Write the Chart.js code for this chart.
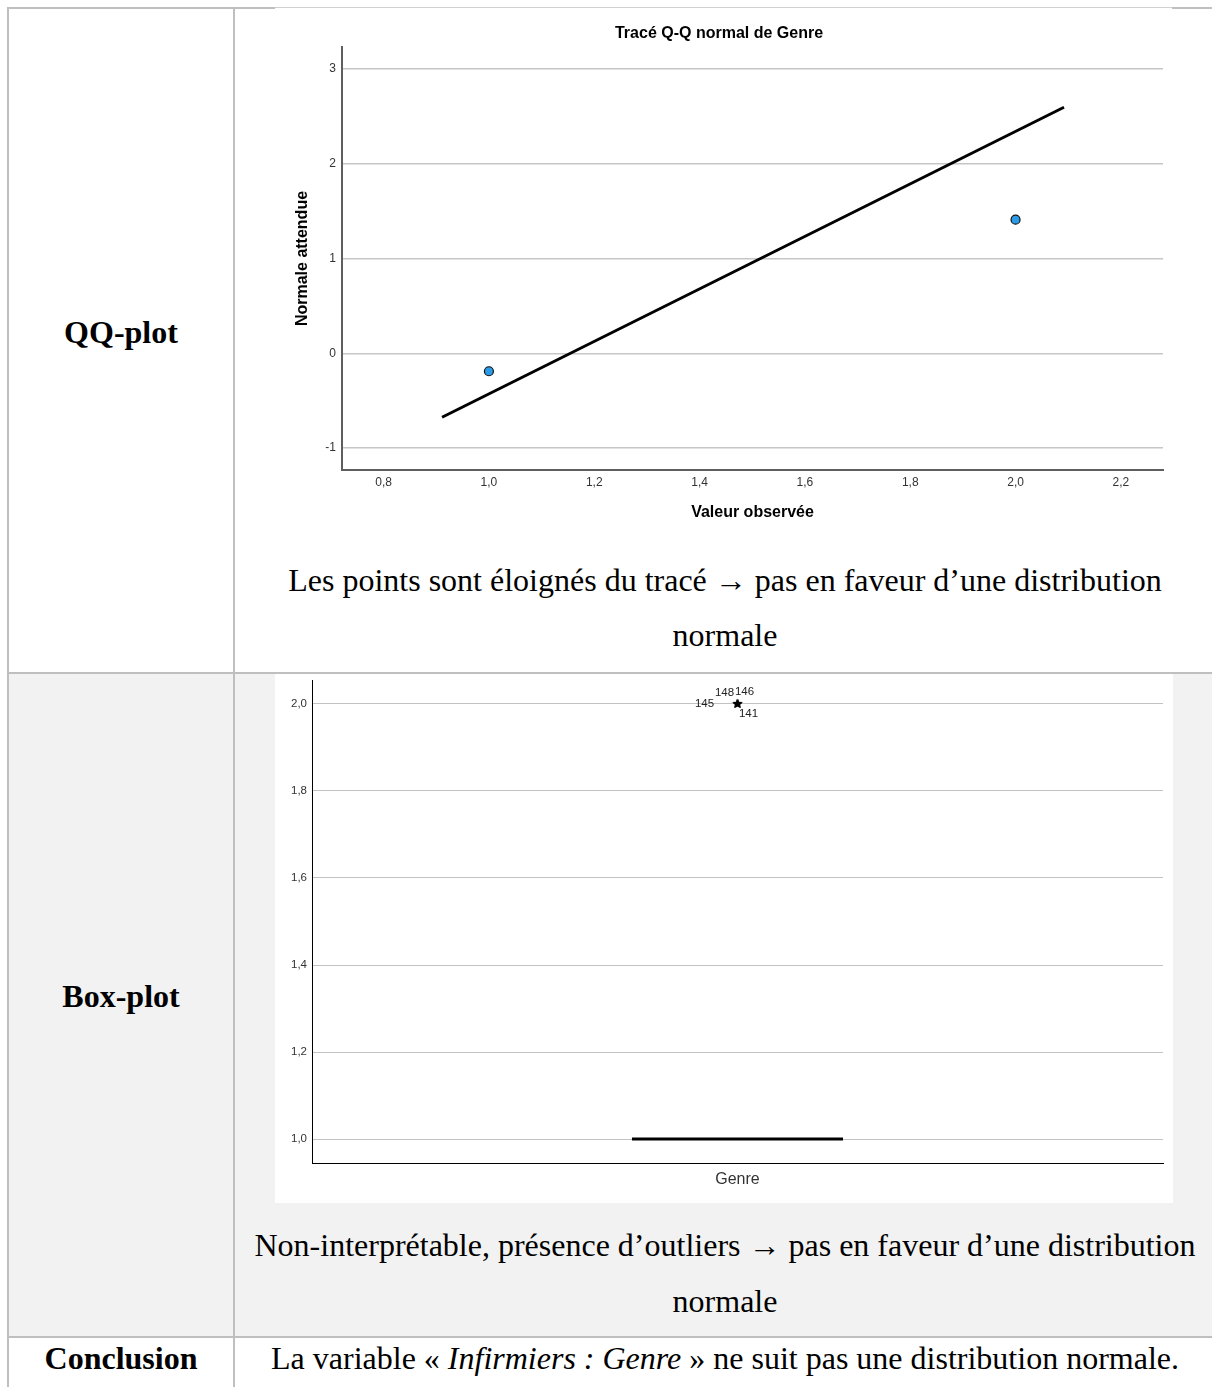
<!DOCTYPE html>
<html><head><meta charset="utf-8">
<script src="https://cdn.jsdelivr.net/npm/chart.js@4.4.0/dist/chart.umd.min.js"></script>
<style>
html,body{margin:0;padding:0;background:#fff;}
body{width:1212px;height:1387px;position:relative;overflow:hidden;font-family:"Liberation Serif","Times New Roman",serif;color:#000;}
.abs{position:absolute;}
.hl{position:absolute;height:2px;background:#bfbfbf;}
.vl{position:absolute;width:2px;background:#bfbfbf;}
.txt{position:absolute;font-size:32px;line-height:55px;white-space:nowrap;text-align:center;}
.b{font-weight:bold;}
</style></head><body>
<div class="abs" style="left:8px;top:674px;width:1204px;height:662px;background:#f2f2f2"></div>
<div class="hl" style="left:7px;top:7px;width:268px"></div>
<div class="abs" style="left:275px;top:7px;width:897px;height:1px;background:#d0d0d0"></div>
<div class="hl" style="left:1172px;top:7px;width:40px"></div>
<div class="hl" style="left:7px;top:672px;width:1205px"></div>
<div class="hl" style="left:7px;top:1336px;width:1205px"></div>
<div class="vl" style="left:7px;top:7px;height:1380px"></div>
<div class="vl" style="left:233px;top:7px;height:1380px"></div>
<div class="abs" style="left:275px;top:10px;width:897px;height:525px"><canvas id="qq" width="897" height="525"></canvas></div>
<div class="abs" style="left:275px;top:674px;width:898px;height:529px;background:#fff"><canvas id="box" width="898" height="529"></canvas></div>

<div class="txt b" style="left:8px;width:226px;top:305px">QQ-plot</div>
<div class="txt" style="left:235px;width:980px;top:553px">Les points sont éloignés du tracé → pas en faveur d’une distribution</div>
<div class="txt" style="left:235px;width:980px;top:608px">normale</div>
<div class="txt b" style="left:8px;width:226px;top:969px">Box-plot</div>
<div class="txt" style="left:235px;width:980px;top:1218px">Non-interprétable, présence d’outliers → pas en faveur d’une distribution</div>
<div class="txt" style="left:235px;width:980px;top:1274px">normale</div>
<div class="txt b" style="left:8px;width:226px;top:1331px">Conclusion</div>
<div class="txt" style="left:235px;width:980px;top:1331px">La variable « <i>Infirmiers : Genre</i> » ne suit pas une distribution normale.</div>

<script>
// ---------- Q-Q plot data ----------
const qqObserved = [1.0, 2.0];
const qqExpected = [-0.19, 1.41];
const qqLineX = [0.911, 2.092];
const qqLineY = [-0.675, 2.596];
const qqXTicks = [0.8, 1.0, 1.2, 1.4, 1.6, 1.8, 2.0, 2.2];
const qqYTicks = [-1, 0, 1, 2, 3];
const qqXRange = [0.721, 2.280];
const qqYRange = [-1.232, 3.232];

// ---------- Box plot data ----------
const boxCategories = ['Genre'];
const boxMin = [1];
const boxQ1 = [1];
const boxMedian = [1];
const boxQ3 = [1];
const boxMax = [1];
const extremeValues = [2, 2, 2, 2];
const extremeLabels = ['145', '148', '146', '141'];
const boxYTicks = [1.0, 1.2, 1.4, 1.6, 1.8, 2.0];
const boxYRange = [0.945, 2.055];

const fmt = v => v.toFixed(1).replace('.', ',');
const SANS = '"Liberation Sans", Arial, sans-serif';

function fixedTicks(arr){ return function(s){ s.ticks = arr.map(v => ({value: v})); }; }
function fitW(w){ return function(s){ s.width = w; s.paddingTop = 0; s.paddingBottom = 0; s.paddingLeft = 0; s.paddingRight = 0; }; }
function fitH(h){ return function(s){ s.height = h; s.paddingTop = 0; s.paddingBottom = 0; s.paddingLeft = 0; s.paddingRight = 0; }; }

new Chart(document.getElementById('qq'), {
  type: 'scatter',
  data: {
    datasets: [
      {
        data: qqObserved.map((x, i) => ({x: x, y: qqExpected[i]})),
        backgroundColor: '#2b9be8', borderColor: '#111', borderWidth: 1.2,
        pointRadius: 4.5, pointHoverRadius: 4.5, order: 0
      },
      {
        data: qqLineX.map((x, i) => ({x: x, y: qqLineY[i]})),
        showLine: true, borderColor: '#000', borderWidth: 3, pointRadius: 0,
        fill: false, order: 1
      }
    ]
  },
  options: {
    responsive: false, animation: false,
    layout: {padding: {left: 0, right: 9, top: 0, bottom: 0}},
    plugins: {
      legend: {display: false}, tooltip: {enabled: false},
      title: {display: true, text: 'Tracé Q-Q normal de Genre', color: '#000',
        font: {family: SANS, size: 16, weight: 'bold', lineHeight: 1.2},
        padding: {top: 14.4, bottom: 3.4}}
    },
    scales: {
      x: {
        type: 'linear', min: qqXRange[0], max: qqXRange[1],
        afterBuildTicks: fixedTicks(qqXTicks), afterFit: fitH(65),
        grid: {display: false, drawTicks: false},
        border: {display: true, color: '#5e5e5e', width: 2},
        ticks: {color: '#333', padding: 5.8, font: {family: SANS, size: 12}, callback: v => fmt(v), maxRotation: 0, autoSkip: false},
        title: {display: true, text: 'Valeur observée', color: '#000',
          font: {family: SANS, size: 16, weight: 'bold', lineHeight: 1.2}, padding: {top: 0, bottom: 12.4}}
      },
      y: {
        type: 'linear', min: qqYRange[0], max: qqYRange[1],
        afterBuildTicks: fixedTicks(qqYTicks), afterFit: fitW(67),
        grid: {color: '#c6c6c6', lineWidth: 1.5, drawTicks: false},
        border: {display: true, color: '#5e5e5e', width: 2},
        ticks: {color: '#333', padding: 6, font: {family: SANS, size: 12}, callback: v => String(v), autoSkip: false},
        title: {display: true, text: 'Normale attendue', color: '#000',
          font: {family: SANS, size: 16, weight: 'bold', lineHeight: 1.2}, padding: {top: 18.4, bottom: 0}}
      }
    }
  }
});

// ---------- Box plot ----------
function makeStar(r){
  const s = Math.ceil(r * 2 + 2);
  const c = document.createElement('canvas'); c.width = s; c.height = s;
  const g = c.getContext('2d'); g.fillStyle = '#000'; g.beginPath();
  for (let k = 0; k < 10; k++) {
    const a = -Math.PI / 2 + k * Math.PI / 5;
    const rr = (k % 2) ? r * 0.42 : r;
    g.lineTo(s / 2 + rr * Math.cos(a), s / 2 + rr * Math.sin(a));
  }
  g.closePath(); g.fill();
  return c;
}
const starImg = makeStar(5);
const labelOffsets = [[-33, 0], [-13, -11], [7, -12], [11, 10]];
const boxWidthFrac = 0.248;

const boxPlugin = {
  id: 'boxDraw',
  beforeDatasetsDraw(chart){
    const ctx = chart.ctx, xs = chart.scales.x, ys = chart.scales.y;
    const catW = (xs.right - xs.left) / boxCategories.length;
    ctx.save();
    boxCategories.forEach((c, i) => {
      const xc = xs.getPixelForValue(i);
      const hw = catW * boxWidthFrac / 2;
      const yq1 = ys.getPixelForValue(boxQ1[i]), yq3 = ys.getPixelForValue(boxQ3[i]);
      const ymed = ys.getPixelForValue(boxMedian[i]);
      const ymin = ys.getPixelForValue(boxMin[i]), ymax = ys.getPixelForValue(boxMax[i]);
      ctx.strokeStyle = '#000'; ctx.lineWidth = 1;
      ctx.beginPath();
      ctx.moveTo(xc, yq3); ctx.lineTo(xc, ymax);
      ctx.moveTo(xc - hw / 2, ymax); ctx.lineTo(xc + hw / 2, ymax);
      ctx.moveTo(xc, yq1); ctx.lineTo(xc, ymin);
      ctx.moveTo(xc - hw / 2, ymin); ctx.lineTo(xc + hw / 2, ymin);
      ctx.stroke();
      ctx.strokeRect(xc - hw, yq3, hw * 2, yq1 - yq3);
      ctx.lineWidth = 3;
      ctx.beginPath(); ctx.moveTo(xc - hw, ymed); ctx.lineTo(xc + hw, ymed); ctx.stroke();
    });
    ctx.restore();
  },
  afterDatasetsDraw(chart){
    const ctx = chart.ctx;
    const meta = chart.getDatasetMeta(0);
    ctx.save();
    ctx.fillStyle = '#222';
    ctx.font = '11.5px ' + SANS;
    ctx.textAlign = 'center'; ctx.textBaseline = 'middle';
    meta.data.forEach((pt, i) => {
      const o = labelOffsets[i] || [0, 0];
      ctx.fillText(extremeLabels[i], pt.x + o[0], pt.y + o[1]);
    });
    ctx.restore();
  }
};

new Chart(document.getElementById('box'), {
  type: 'line',
  data: {
    labels: boxCategories,
    datasets: [{
      data: extremeValues.map(v => ({x: boxCategories[0], y: v})),
      showLine: false, pointStyle: starImg, pointRadius: 5, pointHoverRadius: 5
    }]
  },
  plugins: [boxPlugin],
  options: {
    responsive: false, animation: false,
    layout: {padding: {left: 0, right: 10, top: 6, bottom: 0}},
    plugins: {legend: {display: false}, tooltip: {enabled: false}},
    scales: {
      x: {
        type: 'category', offset: true, afterFit: fitH(40),
        grid: {display: false, drawTicks: false},
        border: {display: true, color: '#000', width: 1},
        ticks: {color: '#333', padding: 7.4, font: {family: SANS, size: 16}}
      },
      y: {
        type: 'linear', min: boxYRange[0], max: boxYRange[1],
        afterBuildTicks: fixedTicks(boxYTicks), afterFit: fitW(37),
        grid: {color: '#c3c3c3', lineWidth: 1, drawTicks: false},
        border: {display: true, color: '#000', width: 1},
        ticks: {color: '#333', padding: 5, font: {family: SANS, size: 11.5}, callback: v => fmt(v), autoSkip: false}
      }
    }
  }
});
</script>
</body></html>
